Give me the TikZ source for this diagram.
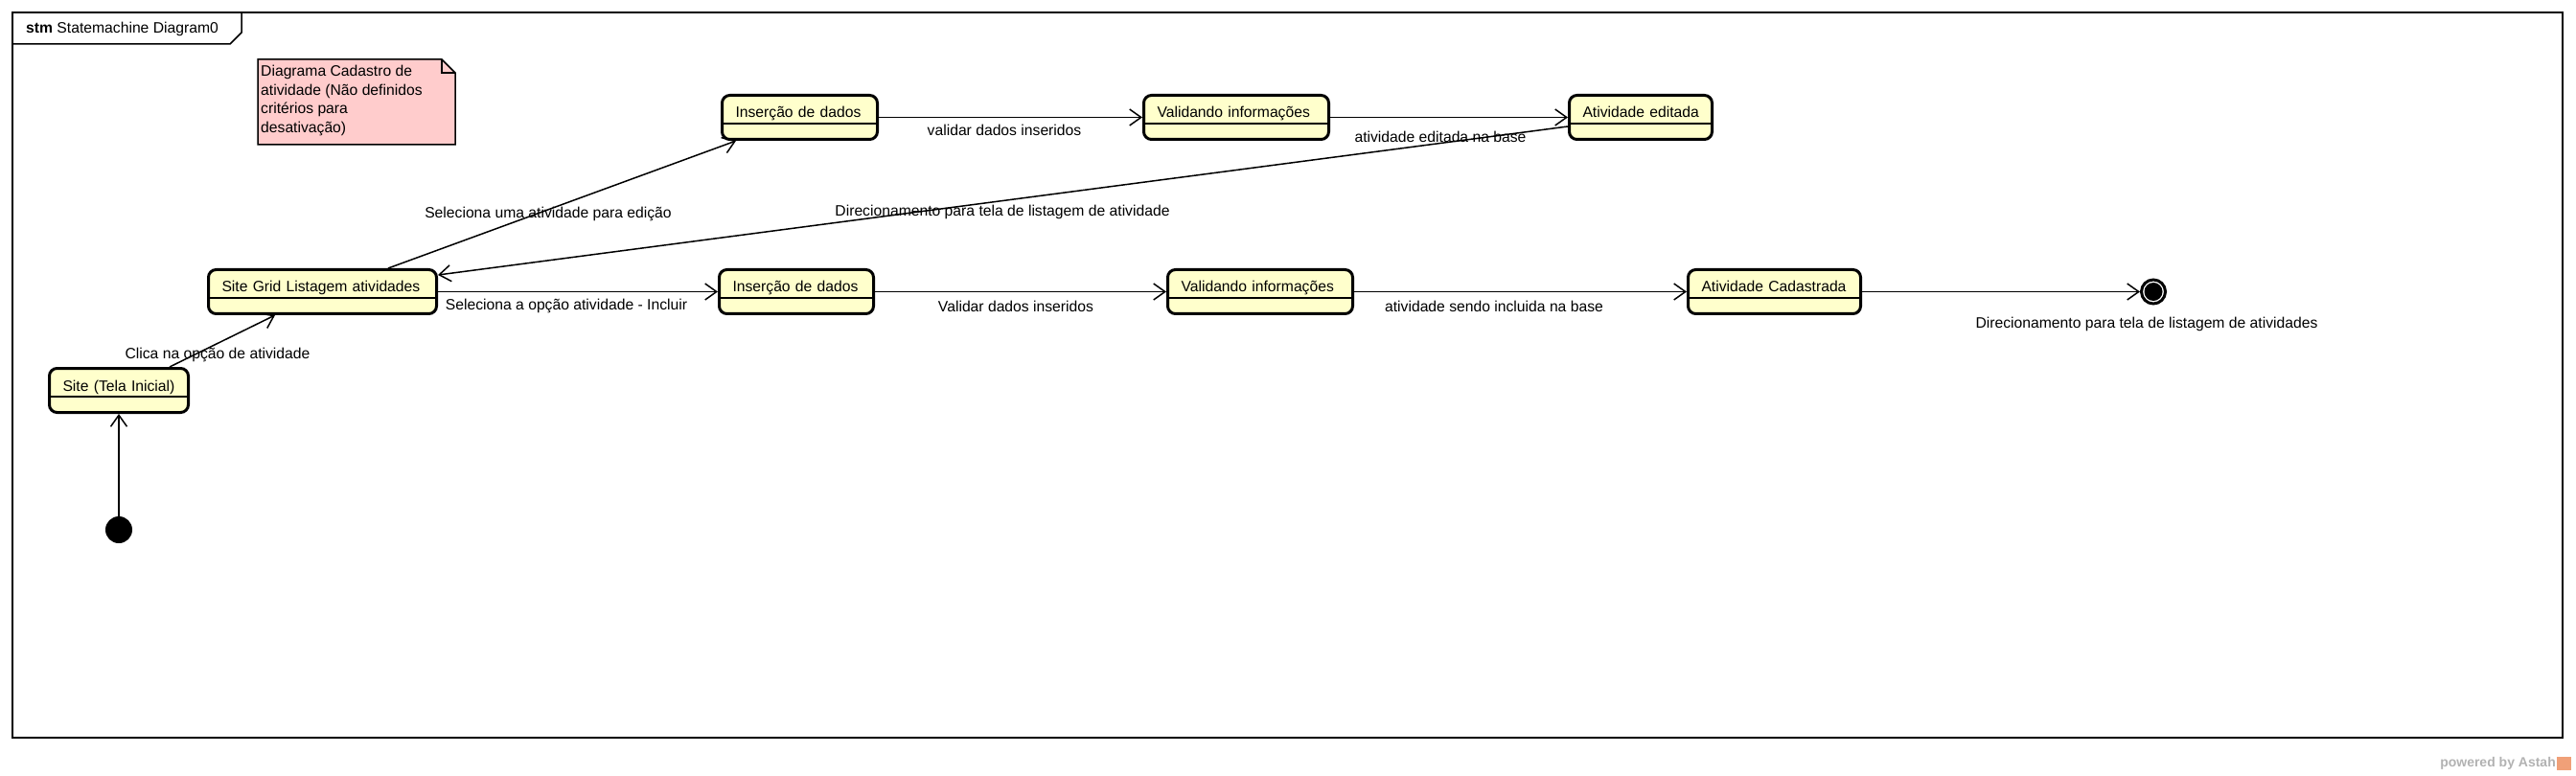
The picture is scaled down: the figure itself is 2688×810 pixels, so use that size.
\documentclass[tikz,border=0pt]{standalone}
\usepackage{fontspec}
\setmainfont{Liberation Sans}
\usetikzlibrary{arrows.meta}

\definecolor{stfill}{HTML}{FFFFCC}
\definecolor{notefill}{HTML}{FFCCCC}
\definecolor{astahor}{RGB}{240,160,120}

\newcommand{\diagfont}{\fontsize{15.7pt}{19.5pt}\selectfont}

\tikzset{
  stbox/.style={draw, line width=3pt, rounded corners=8pt, fill=stfill,
    minimum width=#1, text width=#1-28pt, align=left,
    execute at begin node=\hbox\bgroup, execute at end node=\egroup,
    minimum height=46pt, text height=23.5pt, text depth=22.5pt,
    inner sep=0pt, anchor=north west,
    path picture={\draw[line width=1.5pt]
      ([yshift=-29.5pt]path picture bounding box.north west) --
      ([yshift=-29.5pt]path picture bounding box.north east);}},
  initst/.style={circle, fill=black, minimum size=28pt, inner sep=0pt},
  fimst/.style={circle, draw, line width=3pt, minimum size=25pt, inner sep=0pt,
    path picture={\fill (path picture bounding box.center) circle (9.5pt);}},
  trans/.style={line width=1.5pt, -{Straight Barb[length=12pt,width=17pt]}},
  lbl/.style={inner sep=0pt, text height=11.5pt, text depth=3.3pt}
}

\begin{document}
\begin{tikzpicture}[x=1pt, y=-1pt, font=\diagfont]
    \useasboundingbox (0,0) rectangle (2688,810);

    % moldura
    \draw[line width=1.5pt] (13,13) rectangle (2674,770);
    \draw[line width=1.5pt] (13,46) -- (240,46) -- (252,34) -- (252,13);
    \node[lbl, anchor=west] (titulo) at (27,30.5) {\textbf{stm} Statemachine Diagram0};

    % nota
    \filldraw[fill=notefill, line width=1.5pt] (269,62) -- (461,62) -- (475,76) -- (475,151) -- (269,151) -- cycle;
    \draw[line width=1.5pt] (461,62) -- (461,76) -- (475,76);
    \node[anchor=north west, align=left, inner sep=0pt] (nota) at (272,68)
        {Diagrama Cadastro de\\atividade (Não definidos\\critérios para\\desativação)};

    \node[initst] (inicio) at (124,553) {};
    \node[stbox=145pt] (site) at (50,383) {Site (Tela Inicial)};
    \node[stbox=238pt] (grid) at (216,280) {Site Grid Listagem atividades};
    \node[stbox=162pt] (ins1) at (752,98) {Inserção de dados};
    \node[stbox=193pt] (val1) at (1192,98) {Validando informações};
    \node[stbox=149pt] (edit) at (1636,98) {Atividade editada};
    \node[stbox=161pt] (ins2) at (749,280) {Inserção de dados};
    \node[stbox=193pt] (val2) at (1217,280) {Validando informações};
    \node[stbox=180pt] (cad) at (1760,280) {Atividade Cadastrada};
    \node[fimst] (fim) at (2247,304.5) {};

    \draw[trans] (inicio) -- (site);
    \draw[trans] ([xshift=53pt]site.north) -- ([xshift=-49.5pt]grid.south)
        node[lbl] at (227,370.5) {Clica na opção de atividade};
    \draw[trans] ([xshift=68.5pt]grid.north) -- ([xshift=-66.5pt]ins1.south)
        node[lbl] at (572,223.5) {Seleciona uma atividade para edição};
    \draw[trans] (ins1) -- (val1) node[lbl] at (1048,137.5) {validar dados inseridos};
    \draw[trans] (val1) -- (edit) node[lbl] at (1503,144.5) {atividade editada na base};
    \draw[trans] ([yshift=-9.5pt]edit.west) -- ([yshift=17.5pt]grid.east)
        node[lbl] at (1046,221.5) {Direcionamento para tela de listagem de atividade};
    \draw[trans] (grid) -- (ins2) node[lbl] at (591,319.5) {Seleciona a opção atividade - Incluir};
    \draw[trans] (ins2) -- (val2) node[lbl] at (1060,321.5) {Validar dados inseridos};
    \draw[trans] (val2) -- (cad) node[lbl] at (1559,321.5) {atividade sendo incluida na base};
    \draw[trans] (cad) -- (fim) node[lbl] at (2240,338.5) {Direcionamento para tela de listagem de atividades};

    % marca
    \node[anchor=east, inner sep=0pt, text=gray!60, font=\bfseries\fontsize{14pt}{16pt}\selectfont]
        (marca) at (2667,797) {powered by Astah};
    \fill[astahor] (2668,790) rectangle (2683,804);
\end{tikzpicture}
\end{document}
